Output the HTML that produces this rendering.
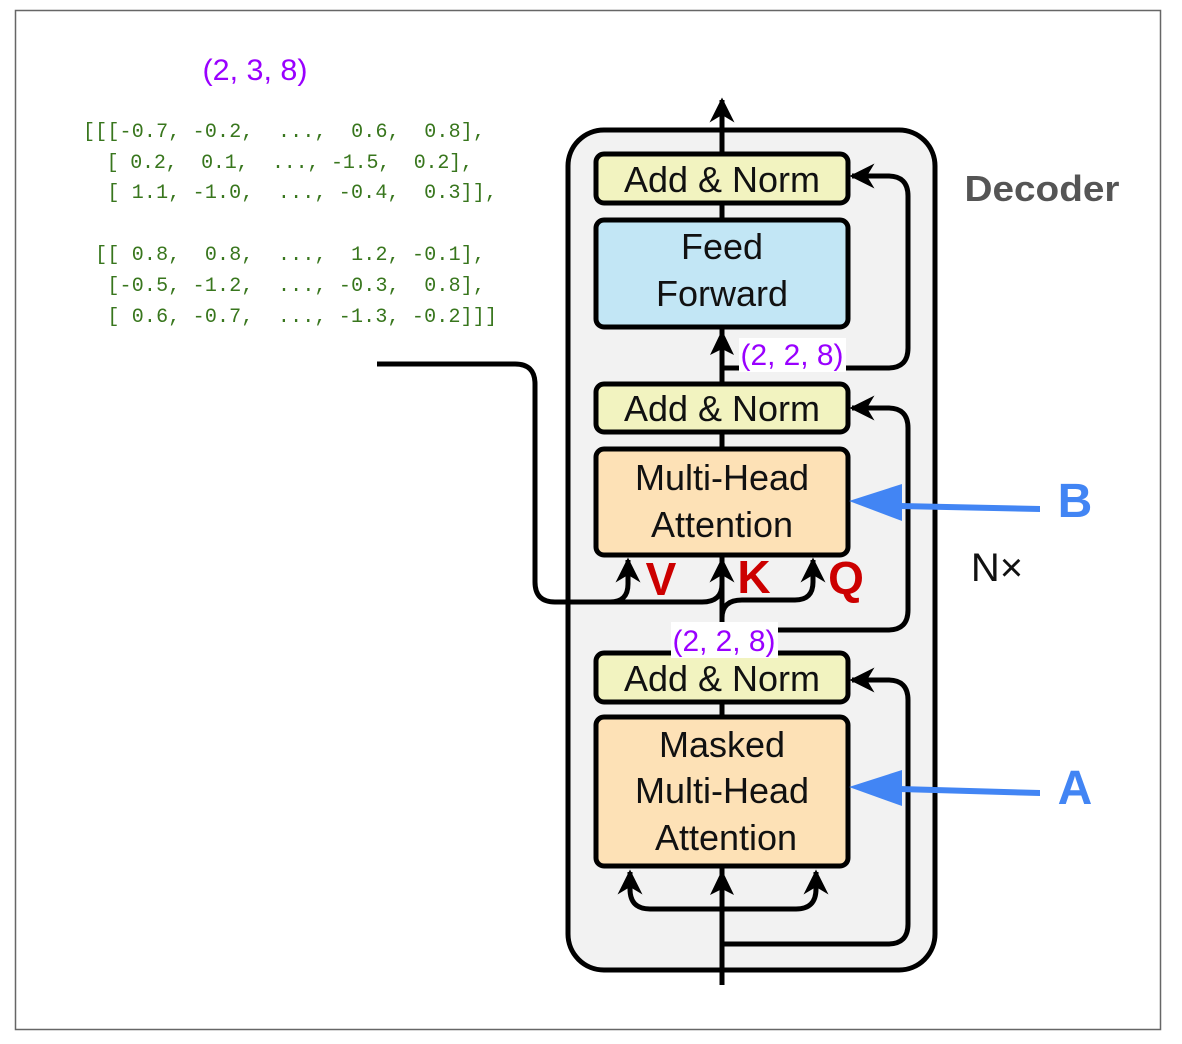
<!DOCTYPE html>
<html><head><meta charset="utf-8"><style>
html,body{margin:0;padding:0;background:#fff;}
svg{display:block;}
.mono{font-family:"Liberation Mono",monospace;font-size:20px;fill:#38761d;white-space:pre;}
.box{font-family:"Liberation Sans",sans-serif;font-size:36px;fill:#111;}
.pur{font-family:"Liberation Sans",sans-serif;font-size:30px;fill:#9900ff;}
</style></head><body>
<svg width="1182" height="1044" viewBox="0 0 1182 1044" xmlns="http://www.w3.org/2000/svg">
<defs>
<marker id="ah" viewBox="0 0 10 10" refX="9" refY="5" markerWidth="5" markerHeight="5" orient="auto" markerUnits="strokeWidth">
<path d="M0,0 L10,5 L0,10 L3,5 z" fill="#000"/></marker>
</defs>
<rect x="15.5" y="10.5" width="1145" height="1019" fill="#fff" stroke="#666" stroke-width="1.5"/>
<text class="pur" x="255" y="80" text-anchor="middle" textLength="105" lengthAdjust="spacingAndGlyphs">(2, 3, 8)</text>
<text class="mono" x="83" y="137" xml:space="preserve" textLength="402" lengthAdjust="spacing">[[[-0.7, -0.2,  ...,  0.6,  0.8],</text>
<text class="mono" x="83" y="168" xml:space="preserve" textLength="390" lengthAdjust="spacing">  [ 0.2,  0.1,  ..., -1.5,  0.2],</text>
<text class="mono" x="83" y="198" xml:space="preserve" textLength="414" lengthAdjust="spacing">  [ 1.1, -1.0,  ..., -0.4,  0.3]],</text>
<text class="mono" x="83" y="260" xml:space="preserve" textLength="402" lengthAdjust="spacing"> [[ 0.8,  0.8,  ...,  1.2, -0.1],</text>
<text class="mono" x="83" y="291" xml:space="preserve" textLength="402" lengthAdjust="spacing">  [-0.5, -1.2,  ..., -0.3,  0.8],</text>
<text class="mono" x="83" y="322" xml:space="preserve" textLength="414" lengthAdjust="spacing">  [ 0.6, -0.7,  ..., -1.3, -0.2]]]</text>

<rect x="568" y="130" width="367" height="840" rx="36" fill="#f2f2f2" stroke="#000" stroke-width="5"/>
<g fill="none" stroke="#000" stroke-width="5">
<path d="M722,985 L722,100" marker-end="url(#ah)"/>
<path d="M722,909 L650,909 Q630,909 630,889 L630,872" marker-end="url(#ah)"/>
<path d="M722,909 L796,909 Q816,909 816,889 L816,872" marker-end="url(#ah)"/>
<path d="M722,944 L888,944 Q908,944 908,924 L908,700 Q908,680 888,680 L852,680" marker-end="url(#ah)"/>
<path d="M722,630 L888,630 Q908,630 908,610 L908,428 Q908,408 888,408 L852,408" marker-end="url(#ah)"/>
<path d="M722,368 L888,368 Q908,368 908,348 L908,196 Q908,176 888,176 L852,176" marker-end="url(#ah)"/>
<path d="M722,630 L722,618 Q722,600 742,600 L795,600 Q813,600 813,582 L813,560" marker-end="url(#ah)"/>
<path d="M377,364 L515,364 Q535,364 535,384 L535,582 Q535,602 555,602 L610,602 Q628,602 628,584 L628,560" marker-end="url(#ah)"/>
<path d="M610,602 L702,602 Q722,602 722,584 L722,560" marker-end="url(#ah)"/>
</g>
<g stroke="#000" stroke-width="5">
<rect x="596" y="154" width="252" height="49" rx="8" fill="#f2f3c0"/>
<rect x="596" y="220" width="252" height="107" rx="8" fill="#c2e6f5"/>
<rect x="596" y="384" width="252" height="48" rx="8" fill="#f2f3c0"/>
<rect x="596" y="449" width="252" height="106" rx="8" fill="#fde1b6"/>
<rect x="596" y="653" width="252" height="49" rx="8" fill="#f2f3c0"/>
<rect x="596" y="717" width="252" height="149" rx="8" fill="#fde1b6"/>
</g>
<g fill="#000">
<polygon points="722,870 710,895 722,889 734,895"/>
<polygon points="722,330 710,355 722,349 734,355"/>
</g>
<g class="box" text-anchor="middle">
<text x="722" y="192" textLength="196" lengthAdjust="spacingAndGlyphs">Add &amp; Norm</text>
<text x="722" y="259">Feed</text>
<text x="722" y="306">Forward</text>
<text x="722" y="421" textLength="196" lengthAdjust="spacingAndGlyphs">Add &amp; Norm</text>
<text x="722" y="490">Multi-Head</text>
<text x="722" y="537">Attention</text>
<text x="722" y="691" textLength="196" lengthAdjust="spacingAndGlyphs">Add &amp; Norm</text>
<text x="722" y="757">Masked</text>
<text x="722" y="803">Multi-Head</text>
<text x="726" y="850">Attention</text>
</g>
<rect x="739" y="338" width="107" height="34" fill="#fff"/>
<text class="pur" x="792" y="365" text-anchor="middle" textLength="103" lengthAdjust="spacingAndGlyphs">(2, 2, 8)</text>
<rect x="671" y="622" width="107" height="36" fill="#fff"/>
<text class="pur" x="724" y="651" text-anchor="middle" textLength="103" lengthAdjust="spacingAndGlyphs">(2, 2, 8)</text>
<g font-family="Liberation Sans,sans-serif" font-weight="bold" font-size="46" fill="#cc0000" text-anchor="middle">
<text x="661" y="595">V</text><text x="754" y="593">K</text><text x="846" y="594">Q</text>
</g>
<text x="1042" y="201" font-family="Liberation Sans,sans-serif" font-weight="bold" font-size="36" fill="#555" text-anchor="middle" textLength="155" lengthAdjust="spacingAndGlyphs">Decoder</text>
<text x="997" y="581" font-family="Liberation Sans,sans-serif" font-size="40" fill="#111" text-anchor="middle">N×</text>
<g fill="#4285f4">
<path d="M900,503 L1040,506 L1040,512 L900,509 z"/>
<polygon points="849,501 902,484 902,521"/>
<path d="M900,786 L1040,790 L1040,796 L900,792 z"/>
<polygon points="849,787 902,770 902,806"/>
<text x="1075" y="517" font-family="Liberation Sans,sans-serif" font-weight="bold" font-size="48" text-anchor="middle">B</text>
<text x="1075" y="804" font-family="Liberation Sans,sans-serif" font-weight="bold" font-size="48" text-anchor="middle">A</text>
</g>
</svg>
</body></html>
